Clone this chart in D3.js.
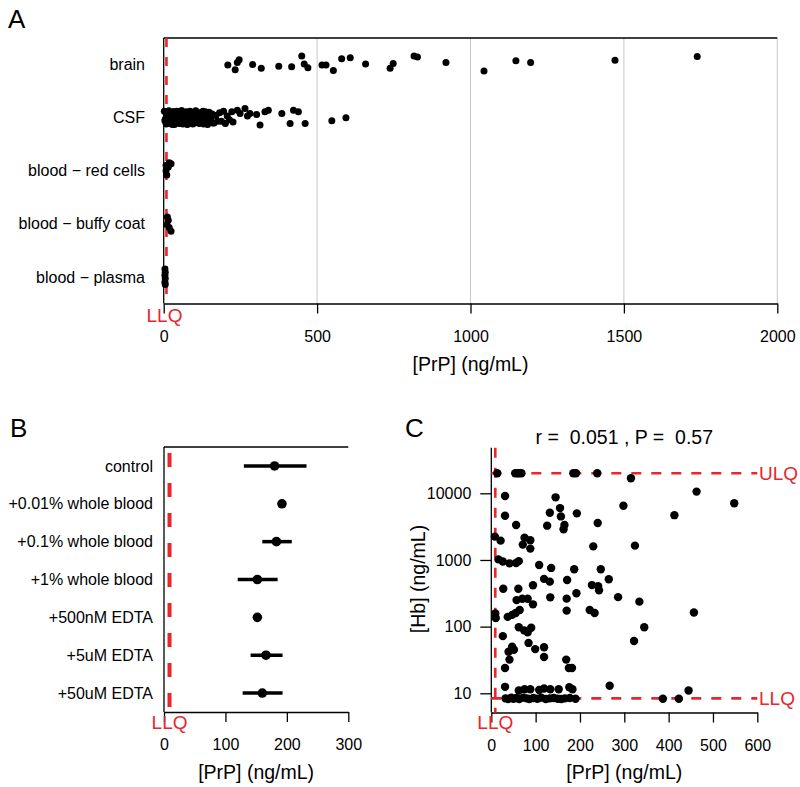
<!DOCTYPE html>
<html><head><meta charset="utf-8">
<script src="https://cdn.jsdelivr.net/npm/d3@7"></script>
<style>body{margin:0;background:#fff} text{white-space:pre}</style>
</head><body><svg id="chart" width="800" height="787"></svg>
<script>
// ================= DATA =================
// Panel A: strip chart of [PrP] by tissue
const aCategories = ["blood − plasma", "blood − buffy coat", "blood − red cells", "CSF", "brain"];
const aTicks = [0, 500, 1000, 1500, 2000];
const LLQ_PRP = 9;

const brainValues = [209,233,240,246,290,318,375,417,450,458,470,516,529,553,580,608,658,738,748,816,827,920,1044,1148,1196,1471,1739];
const brainJitter = [-0.01,-0.10,0.04,0.09,0.0,-0.07,-0.03,-0.04,0.16,0.01,-0.06,-0.01,-0.01,-0.11,0.11,0.13,0.01,-0.07,0.02,0.16,0.14,0.04,-0.12,0.07,0.04,0.08,0.15];

const csfValues = [
  2,5,8,11,14,17,20,23,26,29,32,35,38,41,44,47,50,53,56,59,
  62,65,68,71,74,77,80,83,86,89,92,95,98,101,104,108,112,116,120,124,
  128,133,138,143,148,153,158,164,170,176,
  4,10,16,22,28,34,40,46,52,58,64,70,76,82,88,94,100,106,112,118,
  124,130,136,142,150,160,
  182,188,195,201,207,214,222,226,240,249,265,273,281,303,314,330,341,385,412,423,439,461,548,594];
const csfJitter = [
  0.12,-0.03,-0.12,0.05,-0.08,0.13,0.01,-0.11,0.08,-0.05,
  0.11,-0.13,0.03,-0.06,0.12,-0.01,-0.10,0.07,-0.04,0.13,
  -0.12,0.02,0.09,-0.07,0.11,-0.13,0.04,-0.02,0.12,-0.09,
  0.06,-0.12,0.10,-0.04,0.13,-0.08,0.02,-0.11,0.09,-0.03,
  0.12,-0.06,0.05,-0.13,0.10,-0.01,0.07,-0.10,0.04,-0.07,
  -0.06,0.09,-0.10,0.04,-0.13,0.11,-0.02,0.07,-0.11,0.13,
  -0.05,0.02,-0.12,0.10,-0.08,0.05,-0.03,0.12,-0.09,0.01,
  0.08,-0.12,0.11,-0.06,0.03,-0.10,
  0.09,-0.07,0.12,-0.11,0.03,-0.04,0.11,-0.08,0.14,0.08,0.17,0.03,0.08,0.06,-0.14,0.11,0.14,0.08,-0.11,0.14,0.11,-0.11,-0.06,0.0];

const redValues = [7.5,18,24,15,7.5,10];
const redJitter = [0.10,0.15,0.13,0.07,0.0,-0.08];
const buffyValues = [12,15,10,18,24];
const buffyJitter = [0.13,0.07,-0.01,-0.07,-0.14];
const plasmaValues = [4,5,4,5,4,5];
const plasmaJitter = [0.15,0.09,0.03,-0.03,-0.10,-0.14];

// Panel B: spiked CSF conditions
const bCategories = ["control","+0.01% whole blood","+0.1% whole blood","+1% whole blood","+500nM EDTA","+5uM EDTA","+50uM EDTA"];
const bMean = [180,192,183,152,152,166,160];
const bLow  = [130,null,160,120,null,141,128];
const bHigh = [232,null,208,185,null,193,193];
const bTicks = [0,100,200,300];

// Panel C: [PrP] vs [Hb]
const cPrP = [13.5,54,59,63,68,185,191,239,315,463,31,145,298,548,413,31,132,155,157,193,
  56,126,165,163,240,8,21,75,88,71,88,230,324,16,26,41,56,62,108,135,
  187,247,119,132,171,265,94,227,241,243,27,61,192,286,133,170,57,70,82,94,
  222,233,170,334,457,345,322,9,10,37,47,55,64,62,74,82,90,26,84,99,
  119,119,47,51,39,41,31,169,175,182,31,62,75,88,108,119,133,152,176,183,
  267,445,32,38,45,50,57,63,72,80,86,95,104,113,123,132,141,150,158,166,177,190,387,423];
const cHb = [20000,20000,20000,20000,20000,20000,20000,20000,16800,10600,9100,8700,6500,7100,4700,4600,5100,6000,4500,5000,
  3350,3270,3350,2880,3590,2240,1950,2150,1980,1700,1480,1600,1640,1020,950,890,900,960,840,760,
  725,725,520,473,500,515,417,420,405,350,370,370,316,277,275,263,250,262,262,216,
  178,160,174,237,163,98,61,158,135,140,150,160,178,98,88,82,96,72,57,46,
  49,35,50,45,42,32,24,32,24,24,12.5,11,11.5,11.5,11.2,11.8,11.5,11.5,12.3,11.5,
  13,11,8.4,8.2,8.6,8.3,8.5,8.2,8.6,8.4,8.2,8.5,8.3,8.6,8.2,8.4,8.5,8.3,8.2,8.4,8.5,8.3,8.3,8.3];
const cXTicks = [0,100,200,300,400,500,600];
const cYTicks = [10,100,1000,10000];
const ULQ_HB = 20000, LLQ_HB = 8.4;
const cTitle = "r =  0.051 , P =  0.57";

// ================= DRAW =================
const FONT = "'Liberation Sans', Arial, Helvetica, sans-serif";
const RED = "#e8262b";
const svg = d3.select("#chart").attr("font-family", FONT);
svg.append("rect").attr("width",800).attr("height",787).attr("fill","#fff");

function styleAxis(g, size) {
  g.attr("font-family", FONT).attr("font-size", size);
  g.selectAll("path,line").attr("stroke","#000").attr("stroke-width",1.3);
  g.selectAll("text").attr("fill","#000");
}

// ---------- Panel A ----------
const xA = d3.scaleLinear().domain([0,2000]).range([163.7,777.3]);
const yA = d3.scaleLinear().domain([0.5,5.5]).range([303.5,38]);
const gA = svg.append("g");
gA.selectAll("line.grid").data(aTicks.filter(d=>d>0)).join("line")
  .attr("x1",d=>xA(d)).attr("x2",d=>xA(d)).attr("y1",yA(5.5)).attr("y2",yA(0.5))
  .attr("stroke","#c8c8c8").attr("stroke-width",1);
gA.append("line").attr("x1",xA(0)).attr("x2",xA(2000)).attr("y1",yA(5.5)).attr("y2",yA(5.5)).attr("stroke","#000").attr("stroke-width",1.3);
gA.append("line").attr("x1",xA(0)).attr("x2",xA(0)).attr("y1",yA(5.5)).attr("y2",yA(0.5)).attr("stroke","#000").attr("stroke-width",1.3);
const axA = gA.append("g").attr("transform",`translate(0,${yA(0.5)})`)
  .call(d3.axisBottom(xA).tickValues(aTicks).tickSize(10).tickSizeOuter(0).tickPadding(17).tickFormat(d3.format("d")));
styleAxis(axA, 16);
gA.selectAll("text.cat").data(aCategories).join("text")
  .attr("x",145).attr("y",(d,i)=>yA(i+1)).attr("dy","0.35em").attr("text-anchor","end")
  .attr("font-size",16).text(d=>d);
// LLQ
gA.append("line").attr("x1",xA(LLQ_PRP)).attr("x2",xA(LLQ_PRP)).attr("y1",yA(5.5)).attr("y2",yA(0.5))
  .attr("stroke",RED).attr("stroke-width",2.6).attr("stroke-dasharray","9,10");
gA.append("text").attr("x",xA(LLQ_PRP)-2).attr("y",315).attr("dy","0.35em").attr("text-anchor","middle")
  .attr("fill",RED).attr("font-size",19).text("LLQ");
gA.append("text").attr("x",xA(1000)).attr("y",364).attr("dy","0.35em").attr("text-anchor","middle")
  .attr("font-size",19.5).text("[PrP] (ng/mL)");
svg.append("text").attr("x",8).attr("y",28).attr("font-size",26).text("A");
// points
const aSeries = [[plasmaValues,plasmaJitter],[buffyValues,buffyJitter],[redValues,redJitter],[csfValues,csfJitter],[brainValues,brainJitter]];
aSeries.forEach(([vals,jit],i)=>{
  gA.append("g").selectAll("circle").data(vals).join("circle")
    .attr("cx",d=>xA(d)).attr("cy",(d,j)=>yA(i+1+jit[j])).attr("r",3.5).attr("fill","#000");
});

// ---------- Panel B ----------
const xB = d3.scaleLinear().domain([0,300]).range([164,348.3]);
const yB = d3.scaleLinear().domain([0.5,7.5]).range([447,712]);
const gB = svg.append("g");
gB.append("line").attr("x1",xB(0)).attr("x2",xB(300)).attr("y1",yB(0.5)).attr("y2",yB(0.5)).attr("stroke","#000").attr("stroke-width",1.3);
gB.append("line").attr("x1",xB(0)).attr("x2",xB(0)).attr("y1",yB(0.5)).attr("y2",yB(7.5)).attr("stroke","#000").attr("stroke-width",1.3);
const axB = gB.append("g").attr("transform",`translate(0,${yB(7.5)})`)
  .call(d3.axisBottom(xB).tickValues(bTicks).tickSize(10).tickSizeOuter(0).tickPadding(17));
styleAxis(axB, 16);
gB.append("line").attr("x1",xB(LLQ_PRP)).attr("x2",xB(LLQ_PRP)).attr("y1",yB(0.5)+6).attr("y2",yB(7.5))
  .attr("stroke",RED).attr("stroke-width",4).attr("stroke-dasharray","14,16");
gB.append("text").attr("x",xB(LLQ_PRP)).attr("y",722).attr("dy","0.35em").attr("text-anchor","middle")
  .attr("fill",RED).attr("font-size",19).text("LLQ");
gB.selectAll("text.cat").data(bCategories).join("text")
  .attr("x",153).attr("y",(d,i)=>yB(i+1)).attr("dy","0.35em").attr("text-anchor","end")
  .attr("font-size",16).text(d=>d);
gB.selectAll("line.err").data(bMean.map((m,i)=>i).filter(i=>bLow[i]!==null)).join("line")
  .attr("x1",i=>xB(bLow[i])).attr("x2",i=>xB(bHigh[i])).attr("y1",i=>yB(i+1)).attr("y2",i=>yB(i+1))
  .attr("stroke","#000").attr("stroke-width",3.5);
gB.selectAll("circle").data(bMean).join("circle")
  .attr("cx",d=>xB(d)).attr("cy",(d,i)=>yB(i+1)).attr("r",4.8).attr("fill","#000");
gB.append("text").attr("x",(xB(0)+xB(300))/2).attr("y",772).attr("dy","0.35em").attr("text-anchor","middle")
  .attr("font-size",19.5).text("[PrP] (ng/mL)");
svg.append("text").attr("x",10).attr("y",437).attr("font-size",26).text("B");

// ---------- Panel C ----------
const xC = d3.scaleLinear().domain([0,600]).range([491.3,757.3]);
const yC = d3.scaleLog().domain([10,10000]).range([693.3,493.3]);
const gC = svg.append("g");
const cTop = 447.7, cBottom = 712.5;
gC.append("line").attr("x1",xC(0)).attr("x2",xC(0)).attr("y1",cTop).attr("y2",cBottom).attr("stroke","#000").attr("stroke-width",1.3);
const axCx = gC.append("g").attr("transform",`translate(0,${cBottom})`)
  .call(d3.axisBottom(xC).tickValues(cXTicks).tickSize(10).tickSizeOuter(0).tickPadding(17));
styleAxis(axCx, 16);
const axCy = gC.append("g").attr("transform",`translate(${xC(0)},0)`)
  .call(d3.axisLeft(yC).tickValues(cYTicks).tickSize(11).tickSizeOuter(0).tickPadding(9).tickFormat(d3.format("d")));
styleAxis(axCy, 16);
axCy.select("path.domain").remove();
// limits
gC.append("line").attr("x1",xC(0)).attr("x2",xC(600)).attr("y1",yC(ULQ_HB)).attr("y2",yC(ULQ_HB))
  .attr("stroke",RED).attr("stroke-width",2.6).attr("stroke-dasharray","10,10");
gC.append("line").attr("x1",xC(0)).attr("x2",xC(600)).attr("y1",yC(LLQ_HB)).attr("y2",yC(LLQ_HB))
  .attr("stroke",RED).attr("stroke-width",2.6).attr("stroke-dasharray","10,10");
gC.append("line").attr("x1",xC(LLQ_PRP)).attr("x2",xC(LLQ_PRP)).attr("y1",cTop).attr("y2",cBottom)
  .attr("stroke",RED).attr("stroke-width",2.6).attr("stroke-dasharray","10,10");
gC.append("text").attr("x",759).attr("y",yC(ULQ_HB)).attr("dy","0.35em").attr("fill",RED).attr("font-size",19).text("ULQ");
gC.append("text").attr("x",759).attr("y",yC(LLQ_HB)).attr("dy","0.35em").attr("fill",RED).attr("font-size",19).text("LLQ");
gC.append("text").attr("x",xC(LLQ_PRP)).attr("y",722).attr("dy","0.35em").attr("text-anchor","middle")
  .attr("fill",RED).attr("font-size",19).text("LLQ");
gC.selectAll("circle").data(cPrP).join("circle")
  .attr("cx",d=>xC(d)).attr("cy",(d,i)=>yC(cHb[i])).attr("r",4.2).attr("fill","#000");
gC.append("text").attr("x",(xC(0)+xC(600))/2).attr("y",437).attr("dy","0.35em").attr("text-anchor","middle")
  .attr("font-size",19.5).style("white-space","pre").text(cTitle);
gC.append("text").attr("x",(xC(0)+xC(600))/2).attr("y",772).attr("dy","0.35em").attr("text-anchor","middle")
  .attr("font-size",19.5).text("[PrP] (ng/mL)");
gC.append("text").attr("transform","translate(418,579) rotate(-90)").attr("dy","0.35em").attr("text-anchor","middle")
  .attr("font-size",19.5).text("[Hb] (ng/mL)");
svg.append("text").attr("x",405).attr("y",437).attr("font-size",26).text("C");
</script>
</body></html>
